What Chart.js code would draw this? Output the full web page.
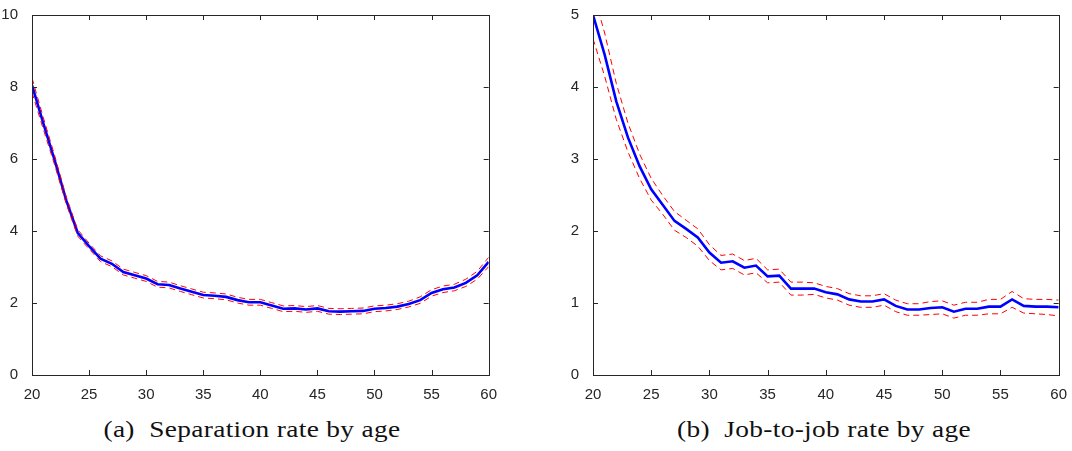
<!DOCTYPE html>
<html>
<head>
<meta charset="utf-8">
<script src="https://cdn.jsdelivr.net/npm/chart.js@4.4.3/dist/chart.umd.js"></script>
<style>
    html, body { margin: 0; padding: 0; background: #fff; width: 1072px; height: 451px; overflow: hidden; }
    .panel { position: absolute; top: 0; }
    .caption {
        position: absolute;
        top: 416px;
        width: 500px;
        font-family: 'Liberation Serif', 'DejaVu Serif', serif;
        font-size: 24px;
        letter-spacing: 0.3px;
        color: #111;
        text-align: center;
        white-space: nowrap;
        transform: scaleX(1.14);
    }
</style>
</head>
<body>
<div class="panel" style="left:0px; width:500px; height:400px;"><canvas id="sepChart"></canvas></div>
<div class="panel" style="left:560px; width:510px; height:400px;"><canvas id="j2jChart"></canvas></div>
<div class="caption" style="left:2px;">(a)&nbsp; Separation rate by age</div>
<div class="caption" style="left:574px;">(b)&nbsp; Job-to-job rate by age</div>

<script>
// ages 20..60
const ages = [20,21,22,23,24,25,26,27,28,29,30,31,32,33,34,35,36,37,38,39,40,
              41,42,43,44,45,46,47,48,49,50,51,52,53,54,55,56,57,58,59,60];

// (a) separation rate by age
const sepRate  = [8.05,6.98,5.95,4.85,3.95,3.58,3.23,3.09,2.86,2.77,2.68,2.52,2.50,2.40,2.31,2.22,2.20,2.17,2.08,2.02,2.02,
                  1.93,1.84,1.85,1.82,1.85,1.77,1.76,1.77,1.78,1.84,1.86,1.90,1.97,2.08,2.28,2.38,2.43,2.56,2.77,3.14];
const sepUpper = [8.25,7.14,6.08,4.95,4.04,3.66,3.31,3.17,2.94,2.85,2.76,2.60,2.58,2.48,2.39,2.30,2.28,2.25,2.16,2.10,2.10,
                  2.01,1.92,1.93,1.90,1.93,1.85,1.84,1.85,1.86,1.92,1.94,1.98,2.05,2.17,2.37,2.47,2.52,2.66,2.88,3.27];
const sepLower = [7.85,6.82,5.82,4.75,3.86,3.50,3.15,3.01,2.78,2.69,2.60,2.44,2.42,2.32,2.23,2.14,2.12,2.09,2.00,1.94,1.94,
                  1.85,1.76,1.77,1.74,1.77,1.69,1.68,1.69,1.70,1.76,1.78,1.82,1.89,1.99,2.19,2.29,2.34,2.46,2.66,3.01];

// (b) job-to-job rate by age
const j2jRate  = [5.00,4.45,3.80,3.30,2.90,2.58,2.36,2.14,2.03,1.91,1.70,1.56,1.58,1.49,1.52,1.37,1.38,1.20,1.20,1.20,1.15,
                  1.12,1.05,1.02,1.02,1.05,0.96,0.91,0.91,0.93,0.94,0.88,0.92,0.92,0.95,0.95,1.05,0.96,0.95,0.95,0.94];
const j2jUpper = [5.33,4.75,4.05,3.50,3.07,2.73,2.49,2.27,2.15,2.03,1.81,1.66,1.68,1.59,1.62,1.46,1.47,1.29,1.29,1.28,1.23,
                  1.20,1.13,1.10,1.10,1.13,1.04,0.99,0.99,1.02,1.03,0.97,1.01,1.01,1.05,1.05,1.16,1.06,1.05,1.05,1.04];
const j2jLower = [4.67,4.15,3.55,3.10,2.73,2.43,2.23,2.01,1.91,1.79,1.59,1.46,1.48,1.39,1.42,1.28,1.29,1.11,1.11,1.12,1.07,
                  1.04,0.97,0.94,0.94,0.97,0.88,0.83,0.83,0.84,0.85,0.79,0.83,0.83,0.85,0.85,0.94,0.86,0.85,0.84,0.82];

const xTicks = [20,25,30,35,40,45,50,55,60];
const sepTicks = [0,2,4,6,8,10];
const j2jTicks = [0,1,2,3,4,5];

const axisColor = '#262626';
const tickFont = { family: "'Liberation Sans', Arial, sans-serif", size: 15 };

function pts(ys) {
    return ages.map((a, i) => ({ x: a, y: ys[i] }));
}

// MATLAB-like box with inward ticks on all four sides
const boxPlugin = {
    id: 'boxTicks',
    afterDraw(chart) {
        const ctx = chart.ctx;
        const area = chart.chartArea;
        const xs = chart.scales.x, ys = chart.scales.y;
        const len = 5;
        ctx.save();
        ctx.strokeStyle = axisColor;
        ctx.lineWidth = 1;
        ctx.strokeRect(Math.round(area.left) + 0.5, Math.round(area.top) + 0.5,
                       Math.round(area.right - area.left), Math.round(area.bottom - area.top));
        ctx.beginPath();
        xs.ticks.forEach(t => {
            const px = Math.round(xs.getPixelForValue(t.value)) + 0.5;
            ctx.moveTo(px, area.bottom); ctx.lineTo(px, area.bottom - len);
            ctx.moveTo(px, area.top); ctx.lineTo(px, area.top + len);
        });
        ys.ticks.forEach(t => {
            const py = Math.round(ys.getPixelForValue(t.value)) + 0.5;
            ctx.moveTo(area.left, py); ctx.lineTo(area.left + len, py);
            ctx.moveTo(area.right, py); ctx.lineTo(area.right - len, py);
        });
        ctx.stroke();
        ctx.restore();
    }
};

function makeChart(id, mid, up, lo, yTicks, yMax, yWidth, pad) {
    return new Chart(document.getElementById(id), {
        type: 'line',
        data: {
            datasets: [
                { data: pts(up), borderColor: '#ff0000', borderWidth: 1, borderDash: [6, 4], pointRadius: 0, tension: 0 },
                { data: pts(lo), borderColor: '#ff0000', borderWidth: 1, borderDash: [6, 4], pointRadius: 0, tension: 0 },
                { data: pts(mid), borderColor: '#0000ff', borderWidth: 2.6, pointRadius: 0, tension: 0 }
            ]
        },
        options: {
            responsive: true,
            maintainAspectRatio: false,
            animation: false,
            layout: { padding: pad },
            plugins: { legend: { display: false }, tooltip: { enabled: false } },
            scales: {
                x: {
                    type: 'linear', min: 20, max: 60,
                    afterBuildTicks: s => { s.ticks = xTicks.map(v => ({ value: v })); },
                    afterFit: s => { s.height = 25; },
                    grid: { display: false },
                    border: { display: false },
                    ticks: { color: axisColor, font: tickFont, padding: 3, maxRotation: 0 }
                },
                y: {
                    min: 0, max: yMax,
                    afterBuildTicks: s => { s.ticks = yTicks.map(v => ({ value: v })); },
                    afterFit: s => { s.width = yWidth; },
                    grid: { display: false },
                    border: { display: false },
                    ticks: { color: axisColor, font: tickFont, padding: 6 }
                }
            }
        },
        plugins: [boxPlugin]
    });
}

makeChart('sepChart', sepRate, sepUpper, sepLower, sepTicks, 10, 32, { top: 14, right: 10, left: 0, bottom: 0 });
makeChart('j2jChart', j2jRate, j2jUpper, j2jLower, j2jTicks, 5, 33, { top: 5, right: 11, left: 0, bottom: 0 });
</script>
</body>
</html>
